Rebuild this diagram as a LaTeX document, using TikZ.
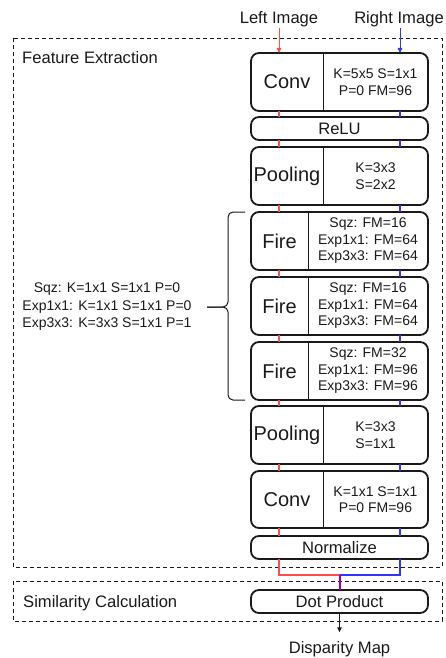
\documentclass[tikz,border=0pt]{standalone}
\usepackage{fontspec}
\setmainfont{Liberation Sans}
\usetikzlibrary{calc,arrows.meta}

\definecolor{txt}{HTML}{1A1A1A}
\definecolor{lred}{HTML}{FF4D4D}
\definecolor{lblue}{HTML}{3333FF}
\definecolor{mix}{HTML}{8A00D4}

\tikzset{
  block/.style={draw=txt, line width=1.8pt, rounded corners=8pt, minimum width=177pt,
                inner sep=0pt, outer sep=0pt},
  half/.style={inner sep=0pt, outer sep=0pt, text=txt, anchor=west,
               font=\fontsize{20}{24}\selectfont},
  divider/.style={draw=txt, line width=0.9pt},
  params/.style={inner sep=0pt, text=txt, align=center,
                 font=\fontsize{14}{16.5}\selectfont},
  midlabel/.style={inner sep=0pt, text=txt, font=\fontsize{16.6}{19}\selectfont},
  redline/.style={draw=lred, line width=1.3pt},
  blueline/.style={draw=lblue, line width=1.3pt},
  feedarrow/.style={line width=1pt, -{Triangle[length=5pt,width=4.5pt]}},
  groupbox/.style={draw=txt, line width=0.9pt, dash pattern=on 4pt off 3pt}
}

\begin{document}
\begin{tikzpicture}[x=1pt,y=-1pt]
\useasboundingbox (0,0) rectangle (446,658);

% dashed stage frames
\draw[groupbox] (13,38) rectangle (442,567);
\draw[groupbox] (13,581) rectangle (442,621);
\node[midlabel, anchor=base west] (fetitle) at (22,63.5) {Feature Extraction};
\node[midlabel, anchor=base west] (simtitle) at (23,607) {Similarity Calculation};

% lane positions of the two image streams
\coordinate (lx) at (279,0);
\coordinate (rx) at (400,0);

% inputs
\node[midlabel, anchor=base] (limg) at (279,23.3) {Left Image};
\node[midlabel, anchor=base] (rimg) at (399,23.3) {Right Image};

% ---- layer stack ----
% Conv 1
\node[block, minimum height=58pt] (conv1) at (339.5,82) {};
\node[half, minimum width=72pt, minimum height=58pt] (conv1L) at (conv1.west) {Conv};
\draw[divider] (conv1L.north east) -- (conv1L.south east);
\node[params] (conv1R) at ($(conv1L.east)!0.5!(conv1.east)$) {K=5x5 S=1x1\\P=0 FM=96};

% ReLU
\node[block, minimum height=23pt, font=\fontsize{16.6}{19}\selectfont, text=txt] (relu) at (339.5,128.5) {ReLU};

% Pooling 1
\node[block, minimum height=58pt] (pool1) at (339.5,176) {};
\node[half, minimum width=72pt, minimum height=58pt] (pool1L) at (pool1.west) {Pooling};
\draw[divider] (pool1L.north east) -- (pool1L.south east);
\node[params] (pool1R) at ($(pool1L.east)!0.5!(pool1.east)$) {K=3x3\\S=2x2};

% Fire 1
\node[block, minimum height=58pt] (fire1) at (339.5,241) {};
\node[half, minimum width=57pt, minimum height=58pt] (fire1L) at (fire1.west) {Fire};
\draw[divider] (fire1L.north east) -- (fire1L.south east);
\node[params] (fire1R) at ($(fire1L.east)!0.5!(fire1.east)$) {Sqz: FM=16\\Exp1x1: FM=64\\Exp3x3: FM=64};

% Fire 2
\node[block, minimum height=58pt] (fire2) at (339.5,306) {};
\node[half, minimum width=57pt, minimum height=58pt] (fire2L) at (fire2.west) {Fire};
\draw[divider] (fire2L.north east) -- (fire2L.south east);
\node[params] (fire2R) at ($(fire2L.east)!0.5!(fire2.east)$) {Sqz: FM=16\\Exp1x1: FM=64\\Exp3x3: FM=64};

% Fire 3
\node[block, minimum height=58pt] (fire3) at (339.5,371) {};
\node[half, minimum width=57pt, minimum height=58pt] (fire3L) at (fire3.west) {Fire};
\draw[divider] (fire3L.north east) -- (fire3L.south east);
\node[params] (fire3R) at ($(fire3L.east)!0.5!(fire3.east)$) {Sqz: FM=32\\Exp1x1: FM=96\\Exp3x3: FM=96};

% Pooling 2
\node[block, minimum height=58pt] (pool2) at (339.5,435) {};
\node[half, minimum width=72pt, minimum height=58pt] (pool2L) at (pool2.west) {Pooling};
\draw[divider] (pool2L.north east) -- (pool2L.south east);
\node[params] (pool2R) at ($(pool2L.east)!0.5!(pool2.east)$) {K=3x3\\S=1x1};

% Conv 2
\node[block, minimum height=57pt] (conv2) at (339.5,499.5) {};
\node[half, minimum width=72pt, minimum height=57pt] (conv2L) at (conv2.west) {Conv};
\draw[divider] (conv2L.north east) -- (conv2L.south east);
\node[params] (conv2R) at ($(conv2L.east)!0.5!(conv2.east)$) {K=1x1 S=1x1\\P=0 FM=96};

% Normalize
\node[block, minimum height=23pt, font=\fontsize{16.6}{19}\selectfont, text=txt] (norm) at (339.5,547.5) {Normalize};

% Dot product
\node[block, minimum height=23pt, font=\fontsize{16.6}{19}\selectfont, text=txt] (dot) at (339.5,601.5) {Dot Product};

% output
\node[midlabel, anchor=base] (disp) at (339.5,653) {Disparity Map};

% ---- streams ----
\draw[feedarrow, draw=lred, fill=lred, shorten <=1.5pt] (limg.south) -- (conv1.north -| lx);
\draw[feedarrow, draw=lblue, fill=lblue, shorten <=1.5pt] (rimg.south -| rx) -- (conv1.north -| rx);

\foreach \a/\b in {conv1/relu, relu/pool1, pool1/fire1, fire1/fire2, fire2/fire3,
                   fire3/pool2, pool2/conv2, conv2/norm} {
  \draw[redline] (\a.south -| lx) -- (\b.north -| lx);
  \draw[blueline] (\a.south -| rx) -- (\b.north -| rx);
}

% merge of the two streams
\coordinate (merge) at (339.5,575);
\draw[redline] (norm.south -| lx) |- (merge);
\draw[blueline] (norm.south -| rx) |- (merge);
\draw[draw=mix, line width=2pt] (merge) -- (dot.north);

\draw[feedarrow, draw=txt, fill=txt, shorten >=8.5pt] (dot.south) -- (disp.north);

% brace grouping the fire modules
\draw[draw=txt, line width=1pt, rounded corners=5pt]
  ($(fire1.north west)+(-6,0)$) -- (228,212) -- (228,307) -- (207,307);
\draw[draw=txt, line width=1pt, rounded corners=5pt]
  (207,307) -- (228,307) -- (228,400) -- ($(fire3.south west)+(-6,0)$);
\node[params, font=\fontsize{14}{17.5}\selectfont] (firenote) at (107,307)
  {Sqz: K=1x1 S=1x1 P=0\\Exp1x1: K=1x1 S=1x1 P=0\\Exp3x3: K=3x3 S=1x1 P=1};

\end{tikzpicture}
\end{document}
